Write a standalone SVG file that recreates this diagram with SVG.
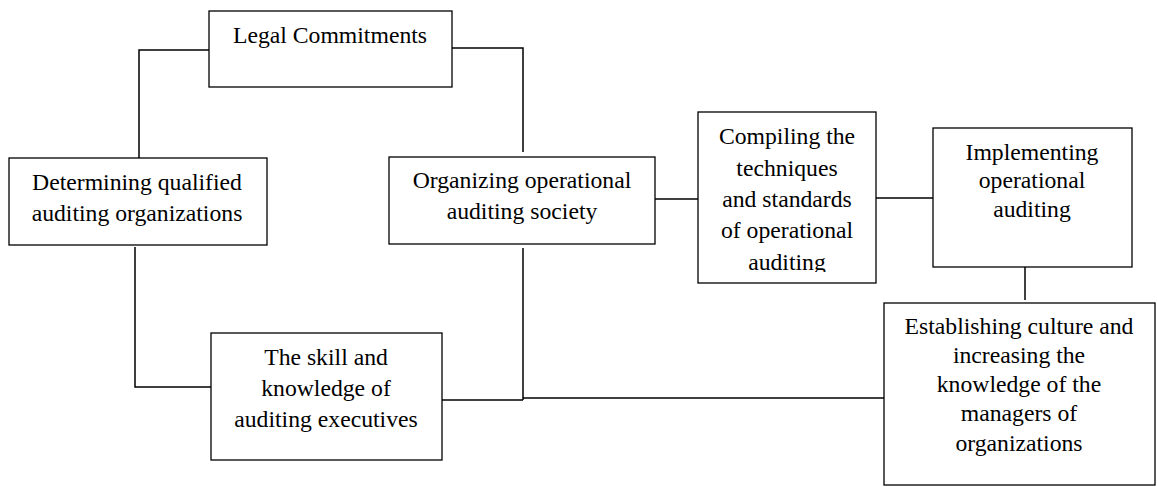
<svg xmlns="http://www.w3.org/2000/svg" width="1157" height="487" viewBox="0 0 1157 487">
  <style>
    .box { fill: #ffffff; stroke: #000000; stroke-width: 1.3; }
    .conn { fill: none; stroke: #000000; stroke-width: 1.5; }
    .lbl { font-family: "Liberation Serif", "Times New Roman", serif; font-size: 23.7px; fill: #000000; text-anchor: middle; }
  </style>
  <defs>
    <clipPath id="clipCompiling">
      <rect x="698" y="112" width="178" height="160"/>
    </clipPath>
  </defs>
  <rect x="0" y="0" width="1157" height="487" fill="#ffffff"/>

  <g id="connectors">
    <path class="conn" d="M209,50 H139 V160"/>
    <path class="conn" d="M452,48 H523 V152"/>
    <path class="conn" d="M650,199 H698"/>
    <path class="conn" d="M876,198 H933"/>
    <path class="conn" d="M1025,267 V300"/>
    <path class="conn" d="M135,247 V387 H211"/>
    <path class="conn" d="M523,248 V400"/>
    <path class="conn" d="M442,400 H523"/>
    <path class="conn" d="M523,398 H884"/>
  </g>

  <g id="legal">
    <rect class="box" x="209" y="11" width="243" height="76"/>
    <text class="lbl" x="330" y="43">Legal Commitments</text>
  </g>

  <g id="determining">
    <rect class="box" x="9" y="158" width="258" height="87"/>
    <text class="lbl" x="137" y="190">Determining qualified</text>
    <text class="lbl" x="137" y="221">auditing organizations</text>
  </g>

  <g id="organizing">
    <rect class="box" x="389" y="157" width="266" height="87"/>
    <text class="lbl" x="522" y="188">Organizing operational</text>
    <text class="lbl" x="522" y="219">auditing society</text>
  </g>

  <g id="compiling">
    <rect class="box" x="698" y="112" width="178" height="171"/>
    <g clip-path="url(#clipCompiling)">
      <text class="lbl" x="787" y="144">Compiling the</text>
      <text class="lbl" x="787" y="176">techniques</text>
      <text class="lbl" x="787" y="207">and standards</text>
      <text class="lbl" x="787" y="238">of operational</text>
      <text class="lbl" x="787" y="270">auditing</text>
    </g>
  </g>

  <g id="implementing">
    <rect class="box" x="933" y="128" width="199" height="139"/>
    <text class="lbl" x="1032" y="160">Implementing</text>
    <text class="lbl" x="1032" y="188">operational</text>
    <text class="lbl" x="1032" y="217">auditing</text>
  </g>

  <g id="skill">
    <rect class="box" x="211" y="333" width="231" height="127"/>
    <text class="lbl" x="326" y="365">The skill and</text>
    <text class="lbl" x="326" y="396">knowledge of</text>
    <text class="lbl" x="326" y="427">auditing executives</text>
  </g>

  <g id="establishing">
    <rect class="box" x="884" y="303" width="271" height="182"/>
    <text class="lbl" x="1019" y="334">Establishing culture and</text>
    <text class="lbl" x="1019" y="363">increasing the</text>
    <text class="lbl" x="1019" y="392">knowledge of the</text>
    <text class="lbl" x="1019" y="421">managers of</text>
    <text class="lbl" x="1019" y="451">organizations</text>
  </g>
</svg>
